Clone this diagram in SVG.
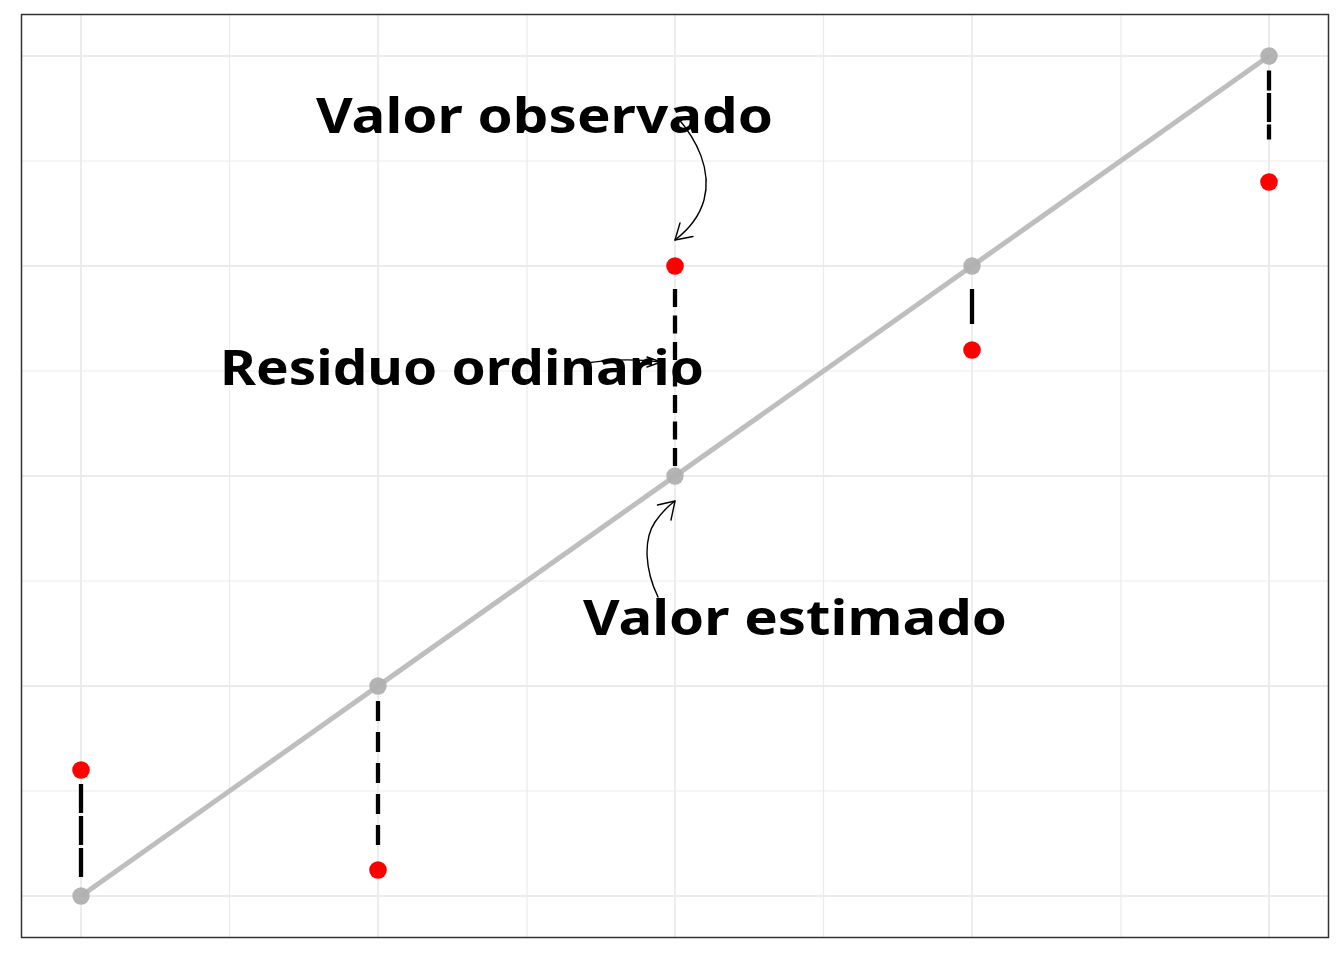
<svg xmlns="http://www.w3.org/2000/svg" width="1344" height="960" viewBox="0 0 1344 960">
<style>
.grid{stroke:#ebebeb;fill:none}
.maj{stroke-width:1.8}
.min{stroke-width:1.2}
.res{stroke:#000;stroke-width:4.3;fill:none}
.fit{fill:#b0b0b0;fill-opacity:0.95}
.obs{fill:#ff0000}
.lbl{font-family:"Noto Sans","DejaVu Sans",sans-serif;font-weight:700;font-size:48px;fill:#000}
.arr{stroke:#000;stroke-width:1.4;fill:none;stroke-linecap:round;stroke-linejoin:round}
</style>
<rect x="0" y="0" width="1344" height="960" fill="#fff"/>
<g id="grid">
<path class="grid min" d="M229.5,15V937M527,15V937M823.5,15V937M1121,15V937M22,791H1328M22,581H1328M22,371H1328M22,161H1328"/>
<path class="grid maj" d="M81,15V937M378,15V937M675,15V937M972,15V937M1269,15V937M22,896H1328M22,686H1328M22,476H1328M22,266H1328M22,56H1328"/>
</g>
<g id="connectors">
<line x1="81" y1="896" x2="1269" y2="56" stroke="#bebebe" stroke-width="5"/>
<line class="res" x1="81" y1="784" x2="81" y2="878" stroke-dasharray="29 3"/>
<line class="res" x1="378" y1="701" x2="378" y2="849" stroke-dasharray="20 11"/>
<line class="res" x1="675" y1="289" x2="675" y2="468" stroke-dasharray="18 8.5"/>
<line class="res" x1="972" y1="289" x2="972" y2="324"/>
<line class="res" x1="1269" y1="70.5" x2="1269" y2="139.5" stroke-dasharray="29 2.5" stroke-dashoffset="9"/>
<path class="arr" d="M677,117 C697,140 712,170 704,200 C699,218 688,230 675,240"/>
<path class="arr" d="M680,223 L675,240 L693,236.5"/>
<path class="arr" d="M658,597 C645,570 643,540 655,522 C662,512 668,506 675,501"/>
<path class="arr" d="M657.5,505 L675,501 L671,520"/>
<path class="arr" d="M582,364 Q620,357 661,362"/>
<path class="arr" d="M647,357 L661,362 L647,367"/>
</g>
<g id="fitted">
<circle class="fit" cx="81" cy="896" r="8.7"/>
<circle class="fit" cx="378" cy="686" r="8.7"/>
<circle class="fit" cx="675" cy="476" r="8.7"/>
<circle class="fit" cx="972" cy="266" r="8.7"/>
<circle class="fit" cx="1269" cy="56" r="8.7"/>
</g>
<g id="observed">
<circle class="obs" cx="81" cy="770" r="8.8"/>
<circle class="obs" cx="378" cy="870" r="8.8"/>
<circle class="obs" cx="675" cy="266" r="8.8"/>
<circle class="obs" cx="972" cy="350" r="8.8"/>
<circle class="obs" cx="1269" cy="182" r="8.8"/>
</g>
<g id="label-observado"><text class="lbl" x="316" y="133" textLength="457" lengthAdjust="spacingAndGlyphs">Valor observado</text></g>
<g id="label-residuo"><text class="lbl" x="220" y="385" textLength="484" lengthAdjust="spacingAndGlyphs">Residuo ordinario</text></g>
<g id="label-estimado"><text class="lbl" x="583" y="635" textLength="424" lengthAdjust="spacingAndGlyphs">Valor estimado</text></g>
<rect x="21.5" y="14.5" width="1307" height="923" fill="none" stroke="#333" stroke-width="1.5"/>
</svg>
